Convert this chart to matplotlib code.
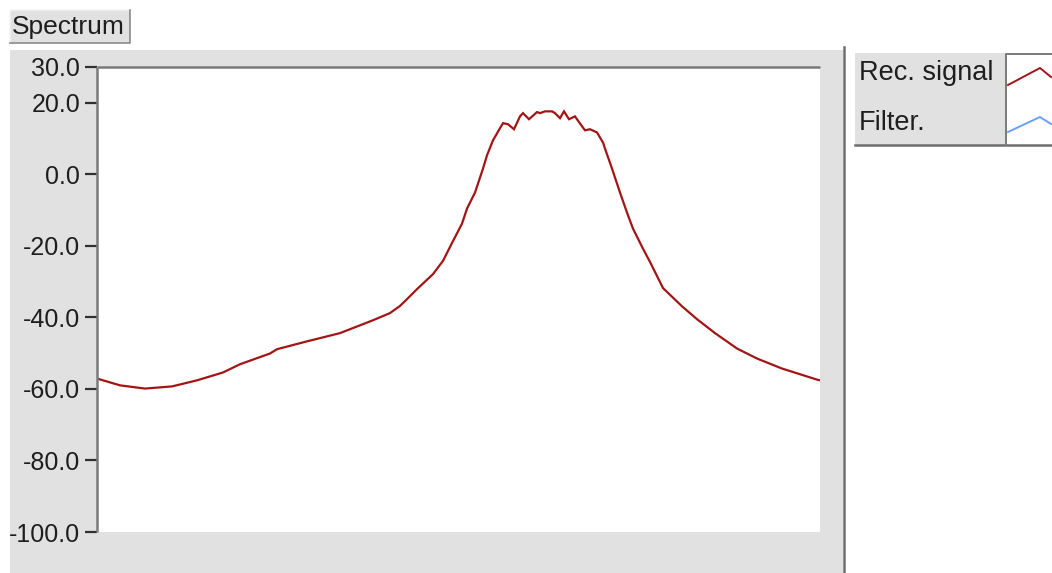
import matplotlib
matplotlib.use("Agg")
import matplotlib.pyplot as plt
from matplotlib.patches import Rectangle
from matplotlib.lines import Line2D

plt.rcParams['font.family'] = ['Liberation Sans', 'DejaVu Sans']
plt.rcParams['axes.unicode_minus'] = False

# Received signal spectrum (dB) against frequency bin
freq_bins = [0, 23, 48, 75, 100, 126, 143, 173, 180, 210, 243, 276, 293, 303,
             310, 320, 336, 346, 355, 365, 370, 378, 386, 390, 396, 403, 406,
             411, 417, 423, 426, 432, 440, 443, 448, 455, 458, 463, 467, 472,
             478, 482, 488, 493, 500, 506, 508, 515, 523, 530, 536, 546, 553,
             566, 585, 600, 618, 640, 660, 685, 720, 723]
rec_signal = [-57.1, -59.0, -59.9, -59.3, -57.6, -55.4, -53.1, -50.1, -48.9,
              -46.7, -44.4, -40.8, -38.8, -36.8, -34.9, -32.1, -27.9, -24.2,
              -19.2, -13.8, -9.6, -5.1, 1.6, 5.3, 9.5, 12.9, 14.3, 14.0, 12.6,
              16.2, 17.1, 15.4, 17.4, 17.1, 17.6, 17.6, 17.1, 15.7, 17.6, 15.4,
              16.2, 14.6, 12.3, 12.6, 11.7, 8.9, 7.2, 1.6, -5.1, -10.7, -15.2,
              -20.8, -24.5, -31.8, -36.9, -40.5, -44.4, -48.7, -51.5, -54.3,
              -57.4, -57.6]
y_ticks = [30, 20, 0, -20, -40, -60, -80, -100]
series_names = ["Rec. signal", "Filter."]

W, H = 1052, 573
PANEL = '#e0e1e0'
EDGE = '#7a7a7a'
TEXT = '#1e1e1e'
RED = '#a31515'
BLUE = '#6aa0ff'


def box(x0, y0, x1, y1):
    """Figure-fraction rectangle from pixel corners (origin top-left)."""
    return [x0 / W, 1 - y1 / H, (x1 - x0) / W, (y1 - y0) / H]


def px(x, y):
    return x / W, 1 - y / H


def panel(x0, y0, x1, y1, color, z=-5):
    l, b, w, h = box(x0, y0, x1, y1)
    fig.patches.append(Rectangle((l, b), w, h, transform=fig.transFigure,
                                 facecolor=color, edgecolor='none', zorder=z))


fig = plt.figure(figsize=(W / 100, H / 100), dpi=100)
fig.patch.set_facecolor('white')

# grey graph panel
panel(10, 50, 843, 573, PANEL)

# separator line at the right of the panel
fig.add_artist(Line2D([844 / W, 844 / W], [0, 1 - 47 / H], transform=fig.transFigure,
                      color='#6e6e6e', lw=1.8))

# "Spectrum" caption button
panel(10, 10, 130, 43, PANEL)
fig.add_artist(Line2D([10 / W, 10 / W, 130 / W], [1 - 43 / H, 1 - 10 / H, 1 - 10 / H],
                      transform=fig.transFigure, color='#f4f4f4', lw=1.2))
fig.add_artist(Line2D([10 / W, 130 / W, 130 / W], [1 - 43 / H, 1 - 43 / H, 1 - 10 / H],
                      transform=fig.transFigure, color='#8a8a8a', lw=1.2))
fig.text(*px(12, 27), "Spectrum", fontsize=19, color=TEXT, va='center', ha='left')

# plotting area
ax = fig.add_axes(box(97, 67, 820, 532))
ax.set_facecolor('white')
ax.plot(freq_bins, rec_signal, color=RED, lw=1.6, solid_joinstyle='miter')
ax.set_xlim(0, 723)
ax.set_ylim(-100, 30)
ax.set_yticks(y_ticks)
ax.set_yticklabels([f"{v:.1f}" for v in y_ticks])
ax.set_xticks([])
ax.tick_params(axis='y', direction='out', length=9, width=1.6, color='#303030',
               labelsize=18, labelcolor=TEXT, pad=3)
for side in ('right', 'bottom'):
    ax.spines[side].set_visible(False)
for side in ('top', 'left'):
    ax.spines[side].set_color(EDGE)
    ax.spines[side].set_linewidth(1.8)
    ax.spines[side].set_capstyle('butt')

# legend panel
panel(855, 53, 1052, 145, PANEL)
fig.add_artist(Line2D([855 / W, 1052 / W], [1 - 145 / H, 1 - 145 / H],
                      transform=fig.transFigure, color='#6e6e6e', lw=1.8))
panel(1006, 53, 1052, 145, 'white', z=-4)
fig.add_artist(Line2D([1006 / W, 1006 / W, 1052 / W], [1 - 145 / H, 1 - 54 / H, 1 - 54 / H],
                      transform=fig.transFigure, color=EDGE, lw=1.4))
fig.text(*px(859, 73), series_names[0], fontsize=19.5, color=TEXT, va='center', ha='left')
fig.text(*px(859, 123), series_names[1], fontsize=19.5, color=TEXT, va='center', ha='left')
sx = [1008, 1040, 1051]
fig.add_artist(Line2D([x / W for x in sx], [1 - y / H for y in (85, 68, 77)],
                      transform=fig.transFigure, color=RED, lw=1.4))
fig.add_artist(Line2D([x / W for x in sx], [1 - y / H for y in (132, 117, 124)],
                      transform=fig.transFigure, color=BLUE, lw=1.4))

fig.savefig("out.png", dpi=100, facecolor='white')
